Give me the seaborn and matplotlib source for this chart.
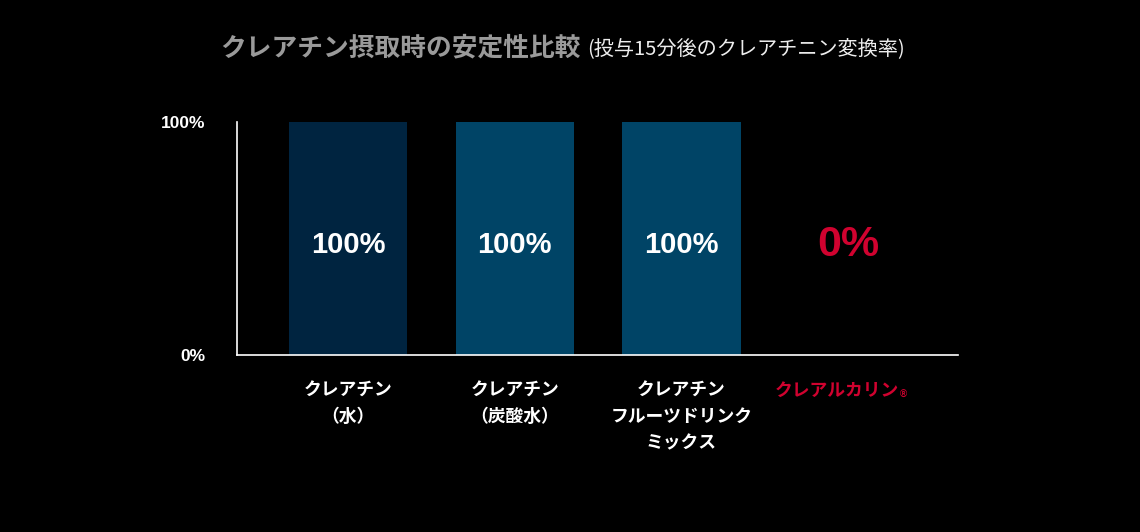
import pandas as pd
import seaborn as sns
import matplotlib.pyplot as plt

# data
categories = ['クレアチン\n（水）', 'クレアチン\n（炭酸水）', 'クレアチン\nフルーツドリンク\nミックス', 'クレアルカリン']
values = [100, 100, 100, 0]
value_labels = ['100%', '100%', '100%', '0%']
bar_colors = ['#002440', '#004466', '#004466', '#000000']
yticks = [0, 100]
ytick_labels = ['0%', '100%']

RED = '#d0022f'
FONT = ['Liberation Sans', 'Noto Sans CJK JP', 'DejaVu Sans']

sns.set_style('dark')
plt.rcParams['font.family'] = FONT

df = pd.DataFrame({'cat': categories, 'val': values})

fig = plt.figure(figsize=(11.4, 5.32), dpi=100, facecolor='black')
ax = fig.add_axes([237 / 1140, 177 / 532, (958 - 237) / 1140, (355 - 122) / 532])
ax.set_facecolor('black')

sns.barplot(data=df, x='cat', y='val', hue='cat', palette=bar_colors, legend=False,
            width=0.71, saturation=1, linewidth=0, ax=ax)

ax.set_xlim(-0.667, 3.66)
ax.set_ylim(0, 100)
ax.grid(False)
for s in ['top', 'right']:
    ax.spines[s].set_visible(False)
for s in ['left', 'bottom']:
    ax.spines[s].set_visible(True)
    ax.spines[s].set_color('white')
    ax.spines[s].set_linewidth(1.2)

ax.set_yticks(yticks)
ax.set_yticklabels(ytick_labels, color='white', fontsize=12.5, fontweight='bold')
ax.tick_params(axis='y', length=0, pad=23)
ax.tick_params(axis='x', length=0, pad=20)
ax.set_xticks(range(len(categories)))
ax.set_xticklabels(categories[:-1] + [''], color='white', fontsize=12.8,
                   fontweight='bold', linespacing=1.7, va='top')
ax.set_xlabel('')
ax.set_ylabel('')

# last category in red, with a small registered mark
last = ax.annotate(categories[-1], xy=(len(categories) - 1, 0), xycoords='data',
                   xytext=(-8, -20), textcoords='offset points', ha='center', va='top',
                   color=RED, fontsize=12.8, fontweight='bold')
fig.canvas.draw()
bb = last.get_window_extent()
fig.text((bb.x1 + 1) / 1140, (bb.y0 + 5) / 532, '®', color=RED, fontsize=7,
         fontweight='bold', ha='left', va='center')

# value labels
for i, (v, lab) in enumerate(zip(values, value_labels)):
    if v > 0:
        ax.text(i, 47, lab, ha='center', va='center', color='white',
                fontsize=21, fontweight='bold')
    else:
        ax.text(i, 47, lab, ha='center', va='center', color=RED,
                fontsize=31, fontweight='bold')

# title in two parts
fig.text(581 / 1140, 1 - 48 / 532, 'クレアチン摂取時の安定性比較', color='#9a9a9a',
         fontsize=18.5, fontweight='bold', ha='right', va='center',
         family=['Noto Sans CJK JP', 'DejaVu Sans'])
fig.text(587 / 1140, 1 - 49 / 532, '(投与15分後のクレアチニン変換率)', color='#ededed',
         fontsize=14.5, ha='left', va='center',
         family=['Noto Sans CJK JP', 'DejaVu Sans'])

fig.savefig('out.png', dpi=100, facecolor='black')
